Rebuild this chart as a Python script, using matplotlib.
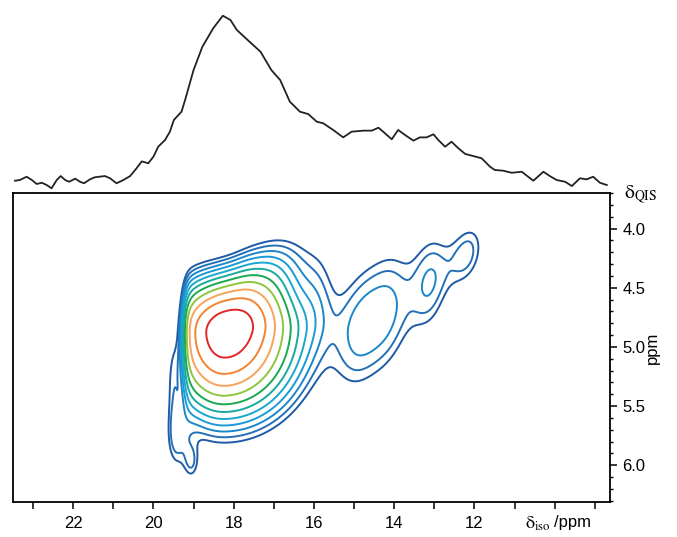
import numpy as np
import matplotlib.pyplot as plt
from matplotlib.ticker import MultipleLocator, FixedLocator

plt.rcParams['font.family'] = ['Liberation Sans', 'DejaVu Sans']
plt.rcParams['mathtext.fontset'] = 'stix'

# 1D projection on top (delta_iso ppm, normalised intensity)
proj_ppm = [23.45, 23.33, 23.16, 23.03, 22.91, 22.78, 22.66, 22.54, 22.41, 22.31,
            22.20, 22.10, 21.95, 21.83, 21.73, 21.58, 21.46, 21.21, 21.08, 20.92,
            20.75, 20.58, 20.42, 20.29, 20.13, 20.00, 19.88, 19.71, 19.59, 19.49,
            19.30, 19.21, 19.00, 18.78, 18.51, 18.27, 18.08, 17.92, 17.65, 17.33,
            17.06, 16.84, 16.60, 16.35, 16.14, 15.93, 15.77, 15.52, 15.27, 15.06,
            14.77, 14.56, 14.39, 14.23, 14.06, 13.90, 13.73, 13.52, 13.36, 13.19,
            13.02, 12.90, 12.73, 12.57, 12.40, 12.23, 12.03, 11.82, 11.61, 11.49,
            11.28, 11.07, 10.82, 10.66, 10.53, 10.28, 10.12, 9.95, 9.74, 9.57,
            9.37, 9.20, 9.04, 8.87, 8.70]
proj_int = [0.044, 0.048, 0.067, 0.048, 0.025, 0.032, 0.019, 0.000, 0.048, 0.071,
            0.048, 0.038, 0.056, 0.038, 0.029, 0.052, 0.064, 0.071, 0.058, 0.029,
            0.048, 0.071, 0.116, 0.156, 0.145, 0.183, 0.241, 0.280, 0.328, 0.396,
            0.444, 0.512, 0.685, 0.820, 0.927, 1.000, 0.975, 0.917, 0.859, 0.791,
            0.685, 0.627, 0.502, 0.444, 0.430, 0.386, 0.377, 0.338, 0.295, 0.328,
            0.334, 0.334, 0.351, 0.319, 0.284, 0.338, 0.309, 0.276, 0.295, 0.295,
            0.313, 0.280, 0.241, 0.270, 0.232, 0.199, 0.187, 0.174, 0.125, 0.106,
            0.102, 0.090, 0.096, 0.067, 0.044, 0.096, 0.071, 0.048, 0.038, 0.013,
            0.058, 0.052, 0.067, 0.032, 0.019]

# 2D peak components: centre (iso, qis), widths, height, shear, cut at left edge
comp_iso = [18.25, 17.50, 15.90, 14.90, 14.10, 13.10, 12.20, 19.50, 19.40, 19.05]
comp_qis = [4.88, 4.55, 4.55, 4.85, 4.68, 4.45, 4.22, 5.30, 5.78, 5.98]
comp_sxl = [0.85, 0.60, 0.35, 0.45, 0.45, 0.35, 0.35, 0.15, 0.20, 0.15]
comp_sxr = [1.10, 0.80, 0.35, 0.45, 0.45, 0.35, 0.35, 0.15, 0.20, 0.15]
comp_syt = [0.27, 0.25, 0.30, 0.38, 0.38, 0.30, 0.20, 0.35, 0.20, 0.12]
comp_syb = [0.41, 0.25, 0.30, 0.38, 0.38, 0.30, 0.20, 0.35, 0.20, 0.12]
comp_amp = [1.00, 0.22, 0.06, 0.115, 0.115, 0.12, 0.11, 0.085, 0.09, 0.08]
comp_tilt = [0.0, 0.20, 0.20, 0.20, 0.20, 0.20, 0.20, 0.0, 0.0, 0.0]
comp_edge = [True, True, False, False, False, False, False, False, False, False]
edge_pos, edge_w = 19.25, 0.07

level_top, level_ratio = 0.907, 1.28
colors = ['#1f5aa6', '#2470b8', '#1b87c9', '#1a9ad6', '#18a8cf', '#16ab9e',
          '#1aa951', '#8cc63f', '#f7a35c', '#f4832f', '#e42527']

x = np.linspace(8.4, 23.7, 600)
y = np.linspace(3.6, 6.4, 400)
X, Y = np.meshgrid(x, y)
Z = np.zeros_like(X)
for xc, yc, sl, sr, st, sb, a, k, e in zip(comp_iso, comp_qis, comp_sxl, comp_sxr,
                                           comp_syt, comp_syb, comp_amp, comp_tilt,
                                           comp_edge):
    dx = X - xc
    sx = np.where(dx > 0, sl, sr)
    dy = Y - yc - k * dx
    sy = np.where(dy > 0, sb, st)
    g = a * np.exp(-0.5 * (dx / sx) ** 2 - 0.5 * (dy / sy) ** 2)
    if e:
        g = g / (1 + np.exp((X - edge_pos) / edge_w))
    Z += g

levels = level_top * level_ratio ** (np.arange(len(colors)) - (len(colors) - 1))

fig = plt.figure(figsize=(6.77, 5.37), dpi=100)
ax = fig.add_axes([13 / 677, 35 / 537, 597 / 677, 309 / 537])
ax.contour(X, Y, Z, levels=levels, colors=colors, linewidths=1.4)
ax.set_xlim(23.5, 8.62)
ax.set_ylim(6.31, 3.70)
for s in ax.spines.values():
    s.set_linewidth(1.3)

ax.xaxis.set_major_locator(FixedLocator([22, 20, 18, 16, 14, 12]))
ax.xaxis.set_minor_locator(MultipleLocator(1))
ax.yaxis.set_major_locator(MultipleLocator(0.5))
ax.yaxis.set_minor_locator(MultipleLocator(0.1))
ax.yaxis.tick_right()
ax.yaxis.set_major_formatter(lambda v, p: f'{v:.1f}')
ax.tick_params(axis='x', which='both', direction='out', length=5, width=1.1,
               labelsize=12, pad=5)
ax.tick_params(axis='y', which='major', direction='out', length=5, width=1.1,
               labelsize=12, pad=4)
ax.tick_params(axis='y', which='minor', direction='out', length=2.5, width=1.0)

fig.text(652 / 677, 1 - 348 / 537, 'ppm', rotation=90, fontsize=12,
         ha='center', va='center')
fig.text(624 / 677, 1 - 195 / 537, r'$\mathrm{\delta}_{\mathrm{QIS}}$', fontsize=14,
         ha='left', va='center')
fig.text(525 / 677, 1 - 524 / 537, r'$\mathrm{\delta}_{\mathrm{iso}}$', fontsize=13,
         ha='left', va='center')
fig.text(554 / 677, 1 - 523 / 537, '/ppm', fontsize=12, ha='left', va='center')

top = fig.add_axes([13 / 677, 1 - 188.3 / 537, 597 / 677, 172.6 / 537])
top.plot(proj_ppm, proj_int, color='#222222', lw=1.3, clip_on=False)
top.set_xlim(23.5, 8.62)
top.set_ylim(min(proj_int), max(proj_int))
top.axis('off')

fig.savefig('out.png', dpi=100)
